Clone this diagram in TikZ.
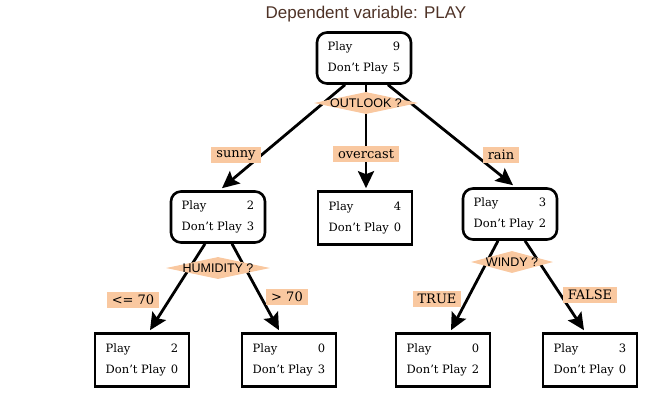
\documentclass[tikz,border=0pt]{standalone}
\usepackage{fontspec}
\setmainfont{DejaVu Serif}
\setsansfont{Liberation Sans}
\usetikzlibrary{shapes.geometric,arrows.meta,calc}
\definecolor{lorange}{HTML}{F9C8A0}
\definecolor{titlec}{HTML}{4E3226}
\newcommand{\pv}[2]{\begin{tabular}{@{}l@{\hspace{5pt}}r@{}}Play&#1\\[8pt]Don't Play&#2\end{tabular}}
\tikzset{
  box/.style={draw, line width=2.6pt, minimum width=94pt, minimum height=51pt, inner sep=0pt, font=\fontsize{11.5}{13}\selectfont},
  rbox/.style={box, rounded corners=10pt},
  dia/.style={diamond, fill=lorange, inner sep=0pt, minimum width=#1, minimum height=22pt},
  dtext/.style={font=\sffamily\fontsize{12.5}{14}\selectfont},
  lab/.style={fill=lorange, inner xsep=5pt, inner ysep=3pt, font=\fontsize{13}{15}\selectfont},
  arr/.style={line width=2.8pt, -{Stealth[length=17pt,width=16pt,inset=3pt]}},
}
\begin{document}
\begin{tikzpicture}[x=1pt,y=-1pt]
\useasboundingbox (0,0) rectangle (663,410);
\node[font=\sffamily\fontsize{17}{19}\selectfont, text=titlec] (title) at (366,14) {Dependent variable: PLAY};
% boxes
\node[rbox] (root) at (364,58) {\pv{9}{5}};
\node[rbox] (lc) at (218,217) {\pv{2}{3}};
\node[box, minimum height=53pt] (mc) at (365,218) {\pv{4}{0}};
\node[rbox] (rc) at (510,214) {\pv{3}{2}};
\node[box, minimum height=53pt] (ll) at (142,360) {\pv{2}{0}};
\node[box, minimum height=53pt] (lr) at (289,360) {\pv{0}{3}};
\node[box, minimum height=53pt] (rl) at (443,360) {\pv{0}{2}};
\node[box, minimum height=53pt] (rr) at (590,360) {\pv{3}{0}};
% edges
\draw[arr] ($(root.south)+(-19,0)$) -- ($(lc.north)+(4,-2)$);
\draw[arr] ($(root.south)+(2,0)$) -- ($(mc.north)+(1,-2)$);
\draw[arr] ($(root.south)+(24,0)$) -- ($(rc.north)+(3,-2)$);
\draw[arr] ($(lc.south)+(-13,0)$) -- ($(ll.north)+(8,-2)$);
\draw[arr] ($(lc.south)+(14,0)$) -- ($(lr.north)+(-10,-2)$);
\draw[arr] ($(rc.south)+(-12,0)$) -- ($(rl.north)+(8,-2)$);
\draw[arr] ($(rc.south)+(15,0)$) -- ($(rr.north)+(-6,-2)$);
% decisions
\node[dia=104pt] (d1) at (366,103) {};
\node[dtext] (d1t) at (d1) {OUTLOOK ?};
\node[dia=104pt] (d2) at (218,268) {};
\node[dtext] (d2t) at (d2) {HUMIDITY ?};
\node[dia=82pt] (d3) at (512,262) {};
\node[dtext] (d3t) at (d3) {WINDY ?};
% labels
\node[lab] (l1) at (236,155) {sunny};
\node[lab] (l2) at (366,154) {overcast};
\node[lab] (l3) at (501,155) {rain};
\node[lab] (l4) at (133,300) {<= 70};
\node[lab] (l5) at (287,297) {> 70};
\node[lab] (l6) at (437,299) {TRUE};
\node[lab] (l7) at (590,295) {FALSE};
\end{tikzpicture}
\end{document}
